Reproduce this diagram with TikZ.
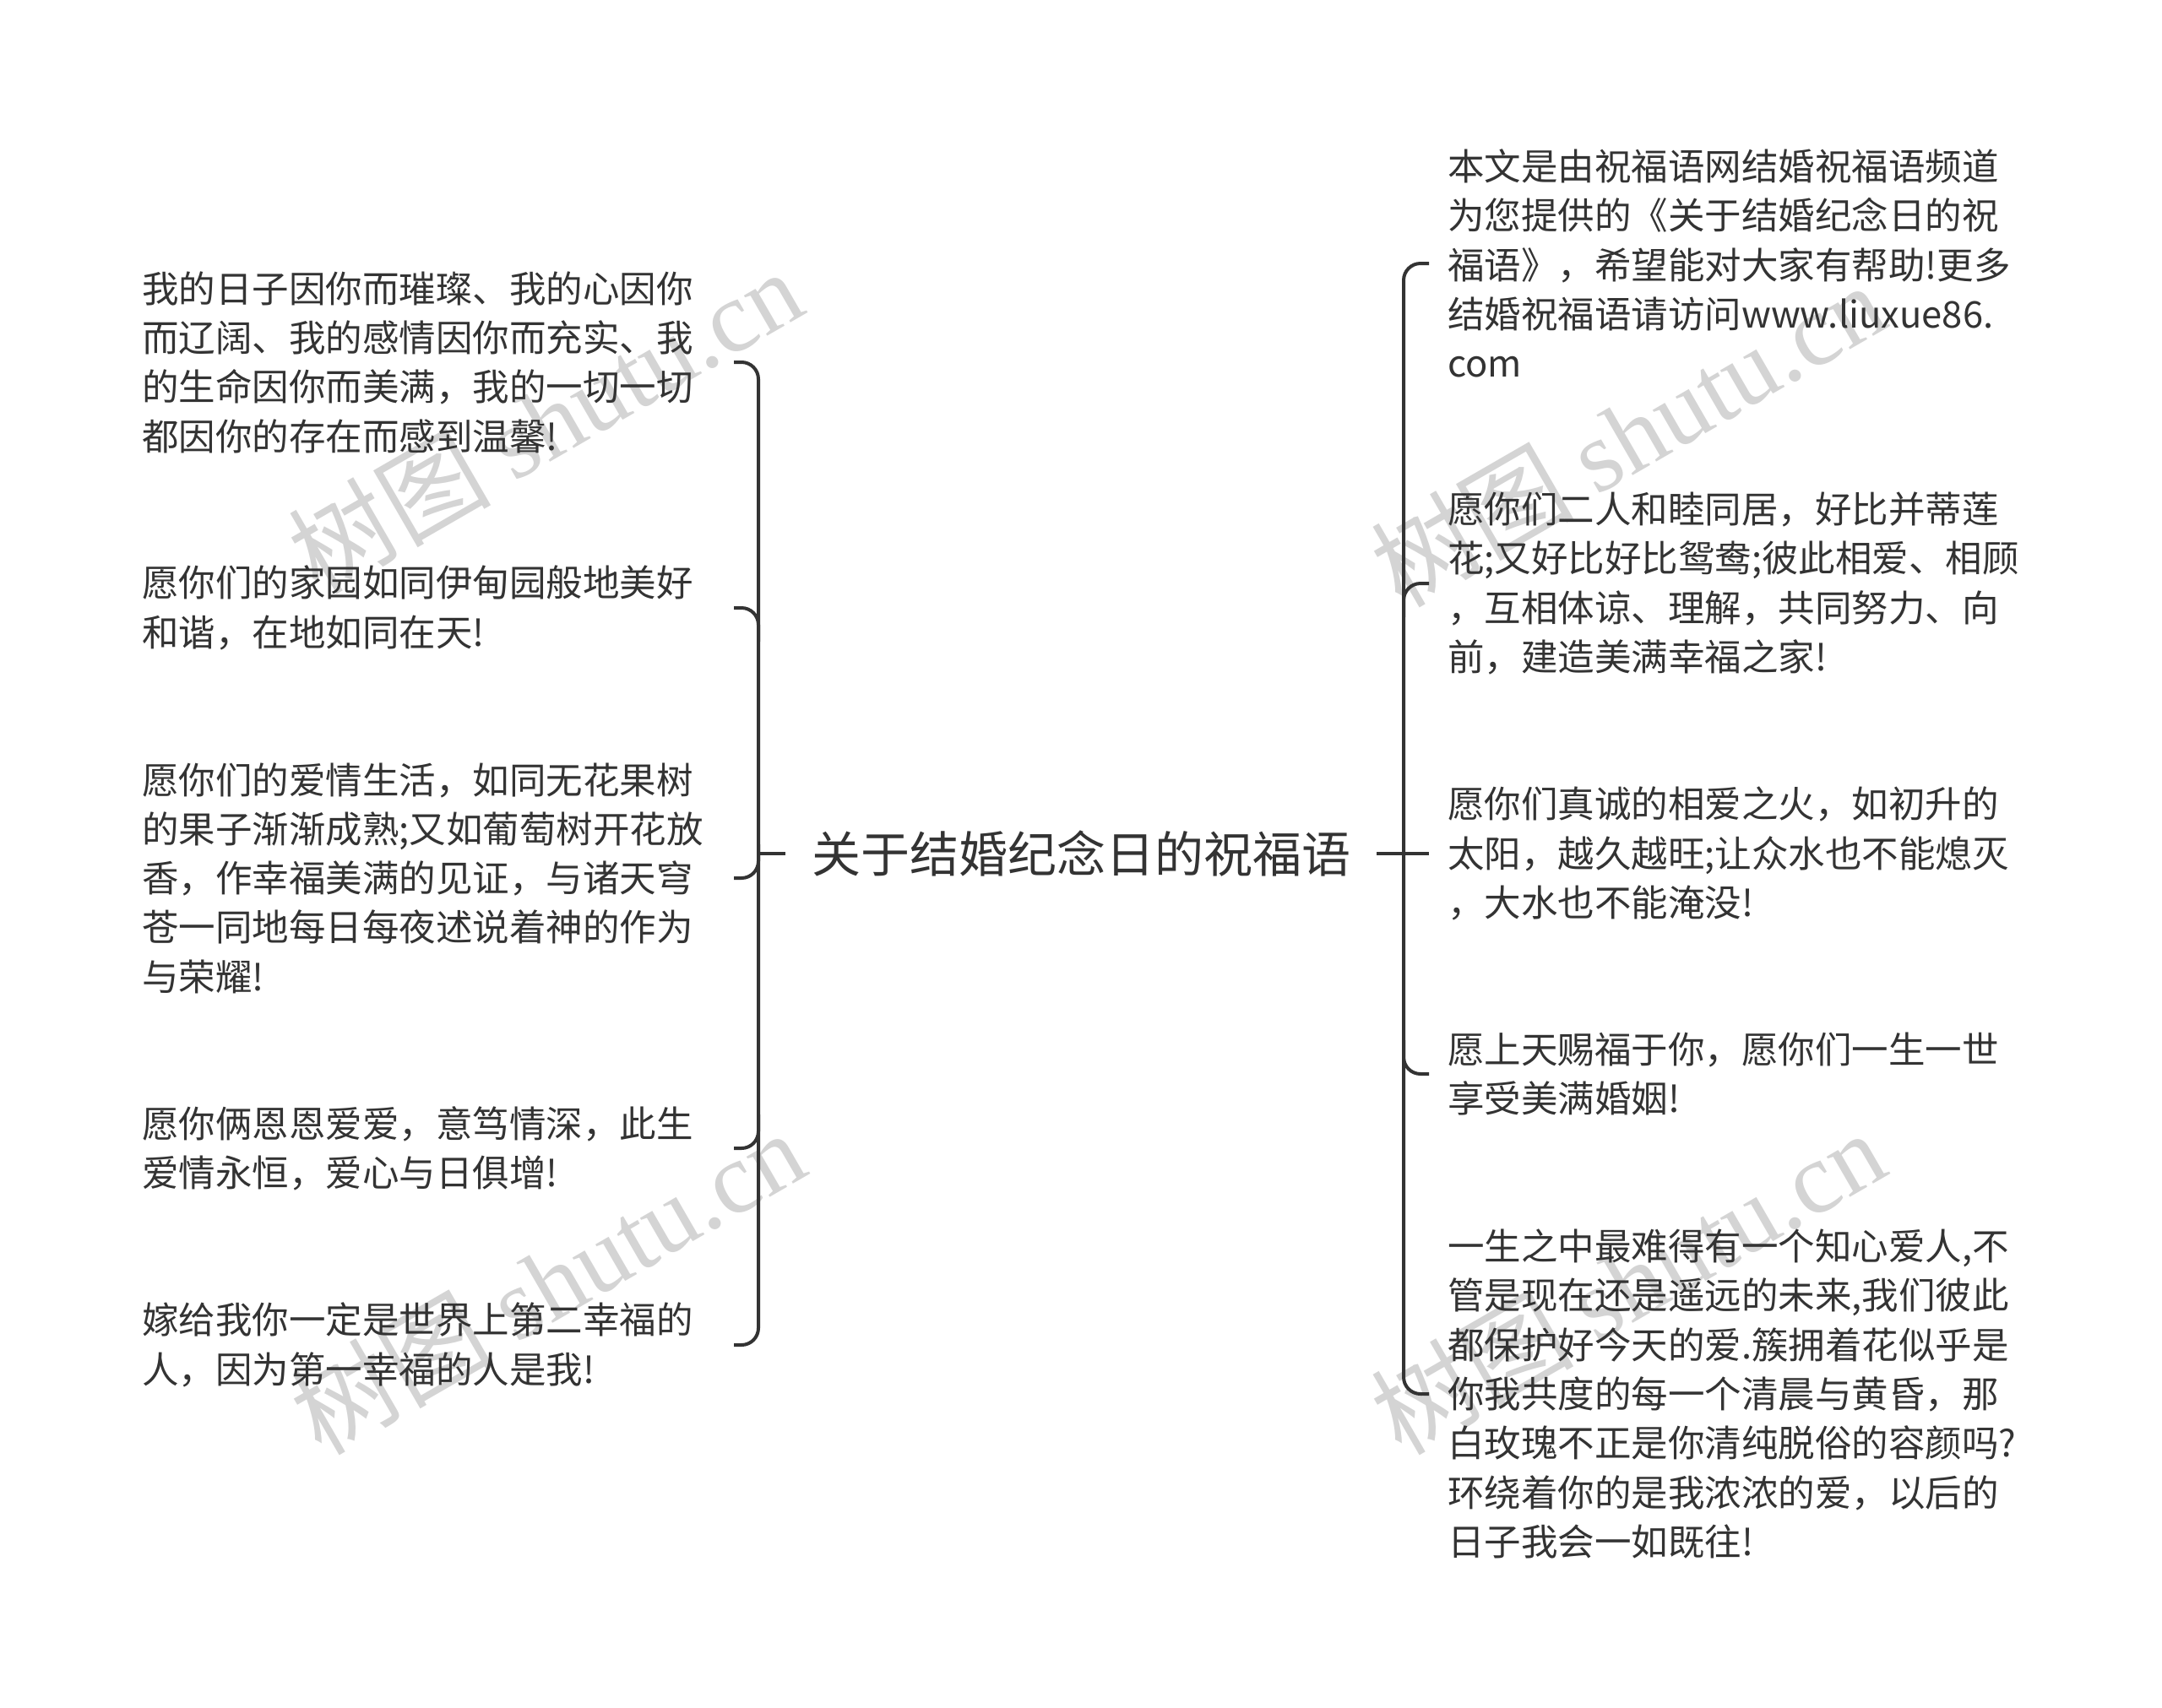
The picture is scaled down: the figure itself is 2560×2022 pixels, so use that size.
\documentclass[tikz,border=0pt]{standalone}
\usepackage{fontspec}
\setmainfont{Noto Sans CJK SC}
\newfontfamily\wmserif{Liberation Serif}
\definecolor{ink}{HTML}{333333}
\definecolor{wm}{HTML}{D4D4D4}
\tikzset{
  conn/.style={draw=ink, line width=4pt, rounded corners=20pt},
  leaf/.style={anchor=west, inner sep=0pt, align=left, text=ink, font=\fontsize{43.5}{58.3}\selectfont},
  root/.style={inner xsep=31pt, inner ysep=0pt, text=ink, font=\fontsize{58}{70}\selectfont},
  wmark/.style={text=wm, rotate=30, inner sep=0pt, font=\fontsize{120}{120}\selectfont}
}
\begin{document}
\begin{tikzpicture}[x=1pt,y=-1pt]
\useasboundingbox[fill=white] (0,0) rectangle (2560,2022);

% watermarks
\node[wmark] (w1) at (645,498) {树图 {\wmserif shutu.cn}};
\node[wmark] (w2) at (648,1518) {树图 {\wmserif shutu.cn}};
\node[wmark] (w3) at (1927,514) {树图 {\wmserif shutu.cn}};
\node[wmark] (w4) at (1927,1518) {树图 {\wmserif shutu.cn}};

% bracket reference coordinates
\coordinate (lt) at (869,0);
\coordinate (lv) at (898,0);
\coordinate (rv) at (1662,0);
\coordinate (rt) at (1692,0);

% root
\node[root] (c) at (1280,1011) {关于结婚纪念日的祝福语};

% left leaves
\node[leaf] (L1) at (168,429) {我的日子因你而璀璨、我的心因你\\而辽阔、我的感情因你而充实、我\\的生命因你而美满，我的一切一切\\都因你的存在而感到温馨!};
\node[leaf] (L2) at (168,720) {愿你们的家园如同伊甸园般地美好\\和谐，在地如同在天!};
\node[leaf] (L3) at (168,1040) {愿你们的爱情生活，如同无花果树\\的果子渐渐成熟;又如葡萄树开花放\\香，作幸福美满的见证，与诸天穹\\苍一同地每日每夜述说着神的作为\\与荣耀!};
\node[leaf] (L4) at (168,1360) {愿你俩恩恩爱爱，意笃情深，此生\\爱情永恒，爱心与日俱增!};
\node[leaf] (L5) at (168,1593) {嫁给我你一定是世界上第二幸福的\\人，因为第一幸福的人是我!};

% right leaves
\node[leaf] (R1) at (1714,312) {本文是由祝福语网结婚祝福语频道\\为您提供的《关于结婚纪念日的祝\\福语》，希望能对大家有帮助!更多\\结婚祝福语请访问www.liuxue86.\\com};
\node[leaf] (R2) at (1714,691) {愿你们二人和睦同居，好比并蒂莲\\花;又好比好比鸳鸯;彼此相爱、相顾\\，互相体谅、理解，共同努力、向\\前，建造美满幸福之家!};
\node[leaf] (R3) at (1714,1011) {愿你们真诚的相爱之火，如初升的\\太阳，越久越旺;让众水也不能熄灭\\，大水也不能淹没!};
\node[leaf] (R4) at (1714,1272) {愿上天赐福于你，愿你们一生一世\\享受美满婚姻!};
\node[leaf] (R5) at (1714,1651) {一生之中最难得有一个知心爱人,不\\管是现在还是遥远的未来,我们彼此\\都保护好今天的爱.簇拥着花似乎是\\你我共度的每一个清晨与黄昏，那\\白玫瑰不正是你清纯脱俗的容颜吗?\\环绕着你的是我浓浓的爱，以后的\\日子我会一如既往!};

% left connectors
\draw[conn] (c.west) -- (c.west -| lv);
\draw[conn] (L1 -| lt) -- (L1 -| lv) -- (L5 -| lv) -- (L5 -| lt);
\draw[conn] (L2 -| lt) -- (L2 -| lv) -- ([yshift=-40pt]L2 -| lv);
\draw[conn] (L3 -| lt) -- (L3 -| lv) -- ([yshift=40pt]L3 -| lv);
\draw[conn] (L4 -| lt) -- (L4 -| lv) -- ([yshift=40pt]L4 -| lv);

% right connectors
\draw[conn] (c.east) -- (c.east -| rt);
\draw[conn] (R1 -| rt) -- (R1 -| rv) -- (R5 -| rv) -- (R5 -| rt);
\draw[conn] (R2 -| rt) -- (R2 -| rv) -- ([yshift=-40pt]R2 -| rv);
\draw[conn] (R4 -| rt) -- (R4 -| rv) -- ([yshift=40pt]R4 -| rv);
\end{tikzpicture}
\end{document}
